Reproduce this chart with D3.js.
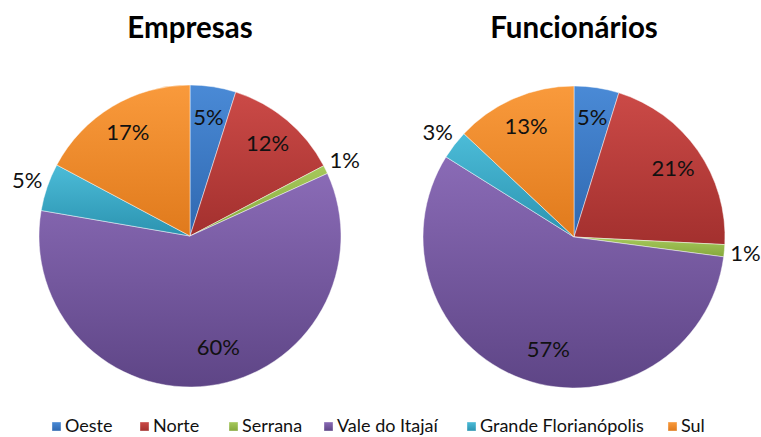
<!DOCTYPE html>
<html>
<head>
<meta charset="utf-8">
<script src="https://cdn.jsdelivr.net/npm/d3@7"></script>
<style>
  html, body { margin: 0; padding: 0; background: #fff; }
  svg { display: block; font-family: Lato, "Open Sans", sans-serif; }
</style>
</head>
<body>
<svg id="chart" width="761" height="437"></svg>
<script>
const regions = ["Oeste", "Norte", "Serrana", "Vale do Itajaí", "Grande Florianópolis", "Sul"];
const empresas = [4.9, 12.4, 0.9, 59.5, 5.1, 17.2];
const funcionarios = [4.8, 21.0, 1.3, 56.8, 3.1, 13.0];
const titles = ["Empresas", "Funcionários"];

const colorTop = ["#4a8ad6", "#cb4a47", "#a6c95c", "#8a6bb6", "#4cbcd8", "#f99a3c"];
const colorBot = ["#2f68b0", "#a3302e", "#86a83c", "#5e4586", "#2b93b0", "#e07a1c"];

const svg = d3.select("#chart");
const defs = svg.append("defs");

regions.forEach((r, i) => {
  const g = defs.append("linearGradient")
    .attr("id", "grad" + i)
    .attr("x1", 0).attr("y1", 0).attr("x2", 0).attr("y2", 1);
  g.append("stop").attr("offset", "0%").attr("stop-color", colorTop[i]);
  g.append("stop").attr("offset", "100%").attr("stop-color", colorBot[i]);
});

const R = 151;
const centers = [{ x: 190, y: 236 }, { x: 574, y: 237 }];

const pie = d3.pie().sort(null).value(d => d);
const arc = d3.arc().innerRadius(0).outerRadius(R);

function drawPie(values, title, c) {
  const g = svg.append("g").attr("transform", `translate(${c.x},${c.y})`);
  const arcs = pie(values);

  g.selectAll("path.slice").data(arcs).join("path")
    .attr("class", "slice")
    .attr("d", arc)
    .attr("fill", (d, i) => `url(#grad${i})`)
    .attr("stroke", "rgba(255,255,255,0.45)")
    .attr("stroke-width", 1)
    .attr("stroke-linejoin", "round");

  // labels: small slices outside, others inside near the rim
  g.selectAll("text.lbl").data(arcs).join("text")
    .attr("class", "lbl")
    .attr("transform", d => {
      const small = d.data < 4 || (d.data < 6 && d.index === 4);
      const rr = small ? R * 1.14 : (d.index === 3 ? R * 0.76 : R * 0.8);
      const a = (d.startAngle + d.endAngle) / 2 + (d.index === 3 ? -0.12 : 0);
      return `translate(${Math.sin(a) * rr},${-Math.cos(a) * rr})`;
    })
    .attr("text-anchor", "middle")
    .attr("dy", "0.36em")
    .attr("font-size", 22)
    .attr("fill", "#111")
    .text(d => Math.round(d.data) + "%");

  svg.append("text")
    .attr("x", c.x)
    .attr("y", 38)
    .attr("text-anchor", "middle")
    .attr("font-size", 29.5)
    .attr("font-weight", "bold")
    .attr("fill", "#000")
    .text(title);
}

drawPie(empresas, titles[0], centers[0]);
drawPie(funcionarios, titles[1], centers[1]);

// legend
const legendX = [52, 140, 229, 324, 467, 668];
const legend = svg.append("g");
regions.forEach((r, i) => {
  const item = legend.append("g").attr("transform", `translate(${legendX[i]},0)`);
  item.append("rect")
    .attr("x", 0).attr("y", 422).attr("width", 9).attr("height", 9)
    .attr("fill", `url(#grad${i})`)
    .attr("stroke", "rgba(255,255,255,0.6)").attr("stroke-width", 0.6);
  item.append("text")
    .attr("x", 13).attr("y", 432)
    .attr("font-size", 18)
    .attr("fill", "#111")
    .text(r);
});
</script>
</body>
</html>
